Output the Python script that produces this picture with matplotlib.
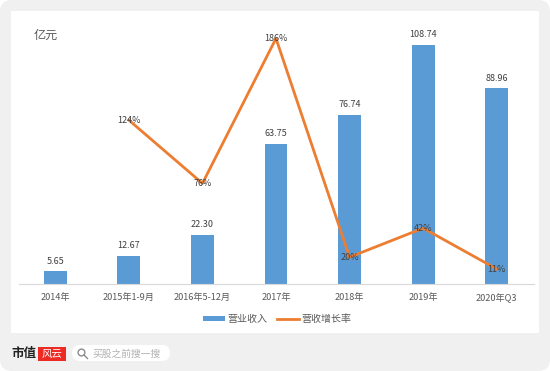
# -*- coding: utf-8 -*-
import matplotlib
matplotlib.use('Agg')
import matplotlib.pyplot as plt
from matplotlib.patches import FancyBboxPatch, Rectangle, Circle
from matplotlib.lines import Line2D
import numpy as np

plt.rcParams['font.family'] = ['Noto Sans CJK SC', 'DejaVu Sans']

categories = ['2014年', '2015年1-9月', '2016年5-12月', '2017年', '2018年', '2019年', '2020年Q3']
revenue = [5.65, 12.67, 22.30, 63.75, 76.74, 108.74, 88.96]
growth = [np.nan, 124, 76, 186, 20, 42, 11]
revenue_labels = ['5.65', '12.67', '22.30', '63.75', '76.74', '108.74', '88.96']
growth_labels = ['', '124%', '76%', '186%', '20%', '42%', '11%']

W, H = 550, 371
blue = '#5B9BD5'
orange = '#ED7D31'
grey_text = '#595959'

fig = plt.figure(figsize=(W / 100, H / 100), dpi=100, facecolor='white')

# page background drawn in pixel coordinates
bg = fig.add_axes([0, 0, 1, 1], zorder=0)
bg.set_xlim(0, W)
bg.set_ylim(H, 0)
bg.axis('off')
bg.add_patch(FancyBboxPatch((12, 12), W - 24, H - 24, boxstyle='round,pad=12,rounding_size=12',
                            fc='#f0f0f0', ec='none'))
bg.add_patch(Rectangle((10.5, 10.5), 528.5, 322.5, fc='white', ec='none'))
bg.text(34, 35, '亿元', fontsize=8.7, color=grey_text, va='center')

# footer logo and search box
bg.text(11, 353.5, '市值', fontsize=9, fontweight='bold', color='#222222', va='center')
bg.add_patch(Rectangle((38, 347), 28, 14, fc='#EE2A24', ec='none'))
bg.text(52, 353.5, '风云', fontsize=7.5, color='white', va='center', ha='center', style='italic')
bg.add_patch(FancyBboxPatch((72, 345), 98, 16, boxstyle='round,pad=0,rounding_size=8',
                            fc='white', ec='none'))
bg.add_patch(Circle((81.5, 352.5), 3.4, fc='none', ec='#8c8c8c', lw=1))
bg.add_line(Line2D([84, 87.5], [355, 358.5], color='#8c8c8c', lw=1))
bg.text(92, 353.5, '买股之前搜一搜', fontsize=7, color='#b0b0b0', va='center')

ax = fig.add_axes([18.5 / W, 1 - 283.5 / H, 515 / W, 263.5 / H], zorder=1)
ax.patch.set_alpha(0)
x = np.arange(len(categories))
ax.bar(x, revenue, width=0.31, color=blue, label='营业收入')
ax.set_xlim(-0.5, 6.5)
ax.set_ylim(0, 120)
ax.set_yticks([])
ax.set_xticks(x)
ax.set_xticklabels(categories, fontsize=6.6, color=grey_text)
ax.tick_params(axis='x', length=0, pad=7)
for s in ['top', 'left', 'right']:
    ax.spines[s].set_visible(False)
ax.spines['bottom'].set_color('#D9D9D9')
for xi, v, t in zip(x, revenue, revenue_labels):
    ax.annotate(t, (xi, v), xytext=(0, 4), textcoords='offset points', ha='center', va='bottom',
                fontsize=6.5, color='#404040')

ax2 = ax.twinx()
ax2.patch.set_alpha(0)
ax2.plot(x, growth, color=orange, lw=2.0, label='营收增长率')
ax2.set_ylim(0, 200)
ax2.axis('off')
for xi, v, t in zip(x, growth, growth_labels):
    if t:
        ax2.text(xi, v, t, ha='center', va='center', fontsize=6.5, color='#404040')

# legend
handles = [Rectangle((0, 0), 1, 1, fc=blue, ec='none'),
           Line2D([0], [0], color=orange, lw=2.0)]
fig.legend(handles, ['营业收入', '营收增长率'], loc='center', ncol=2, frameon=False,
           bbox_to_anchor=(277 / W, 1 - 319 / H), fontsize=7.2, labelcolor=grey_text,
           handlelength=2.2, handleheight=0.35, columnspacing=0.9, handletextpad=0.25)

fig.savefig('out.png', dpi=100, facecolor='white')
